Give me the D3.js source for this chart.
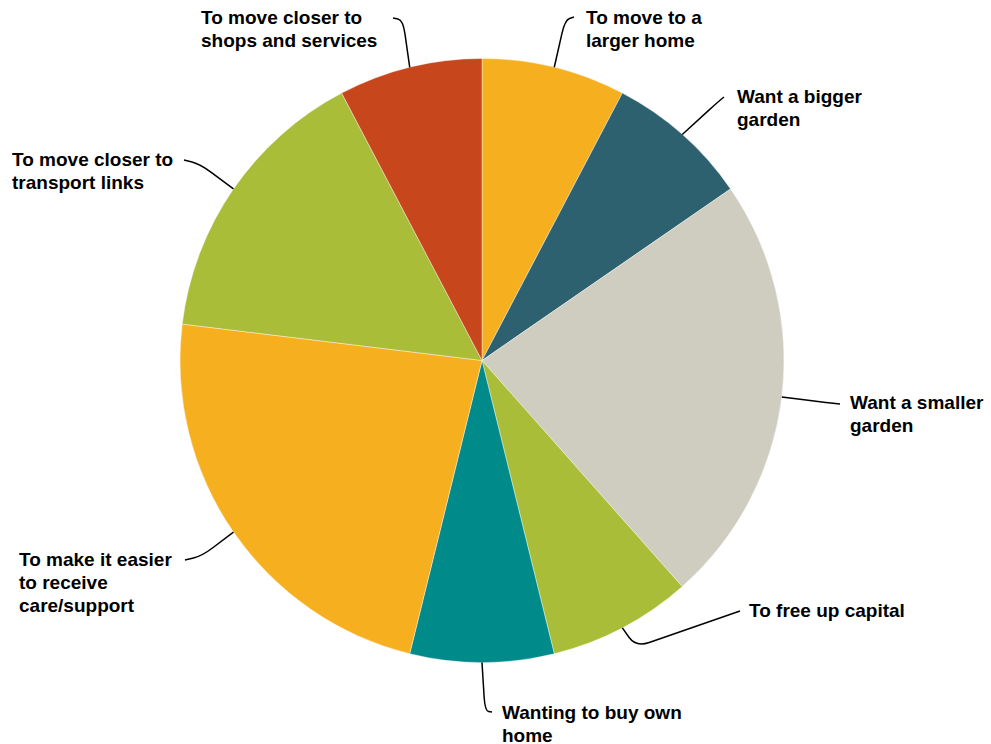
<!DOCTYPE html>
<html><head><meta charset="utf-8">
<script src="https://cdn.jsdelivr.net/npm/d3@7"></script>
<style>body{margin:0;background:#fff}svg{display:block}</style>
</head><body>
<script>
const categories = ["To move to a larger home","Want a bigger garden","Want a smaller garden","To free up capital","Wanting to buy own home","To make it easier to receive care/support","To move closer to transport links","To move closer to shops and services"];
const values = [1,1,3,1,1,3,2,1];
const labelLines = [["To move to a","larger home"],["Want a bigger","garden"],["Want a smaller","garden"],["To free up capital"],["Wanting to buy own","home"],["To make it easier","to receive","care/support"],["To move closer to","transport links"],["To move closer to","shops and services"]];
const colors = ["#F5AF1F","#2D6170","#CFCDBF","#AABD38","#008A8A","#F5AF1F","#AABD38","#C8461C"];

// layout: label anchor (x, first-line center y), leader elbow, leader end
const layout = [
  {lx:586, ly:17, elbow:[565,20], end:[574,17]},
  {lx:737, ly:96, elbow:[719,101], end:[724,97]},
  {lx:850, ly:402, elbow:[812,401], end:[840,404]},
  {lx:749, ly:610, elbow:[636,647], end:[740,611]},
  {lx:502, ly:712, elbow:[485,711], end:[492,712]},
  {lx:19, ly:559, elbow:[202,556], end:[185,560]},
  {lx:12, ly:159, elbow:[200,164], end:[184,160]},
  {lx:201, ly:17, elbow:[403,20], end:[393,18]}
];

const W=991,H=744,cx=482,cy=360.5,R=302;
const svg=d3.select("body").append("svg").attr("width",W).attr("height",H);
const g=svg.append("g").attr("transform",`translate(${cx},${cy})`);
const pie=d3.pie().sort(null).value(d=>d)(values);
const arc=d3.arc().innerRadius(0).outerRadius(R);
const edge=d3.arc().innerRadius(R).outerRadius(R);
g.selectAll("path.s").data(pie).join("path").attr("class","s")
 .attr("d",arc).attr("fill",(d,i)=>colors[i]).attr("stroke","#fff").attr("stroke-width",0.4);

function rounded(p0,e,p3,rad){
  const p=d3.path();
  p.moveTo(p0[0],p0[1]);
  const d1=Math.hypot(e[0]-p0[0],e[1]-p0[1]), d2=Math.hypot(p3[0]-e[0],p3[1]-e[1]);
  const r1=Math.min(rad,d1*0.5), r2=Math.min(rad,d2*0.5);
  const a=[e[0]+(p0[0]-e[0])*r1/d1, e[1]+(p0[1]-e[1])*r1/d1];
  const b=[e[0]+(p3[0]-e[0])*r2/d2, e[1]+(p3[1]-e[1])*r2/d2];
  p.lineTo(a[0],a[1]);
  p.quadraticCurveTo(e[0],e[1],b[0],b[1]);
  p.lineTo(p3[0],p3[1]);
  return p.toString();
}
pie.forEach((d,i)=>{
  const c=edge.centroid(d);
  const s=[c[0]+cx,c[1]+cy];
  const L=layout[i];
  svg.append("path").attr("d",rounded(s,L.elbow,L.end,14)).attr("fill","none").attr("stroke","#000").attr("stroke-width",1.5);
  const t=svg.append("text").attr("x",L.lx).attr("y",L.ly).attr("font-family","Liberation Sans, Arial, sans-serif").attr("font-weight","bold").attr("font-size",19).attr("fill","#000");
  labelLines[i].forEach((ln,j)=>t.append("tspan").attr("x",L.lx).attr("dy",j===0?"0.35em":"23px").text(ln));
});
</script>
</body></html>
